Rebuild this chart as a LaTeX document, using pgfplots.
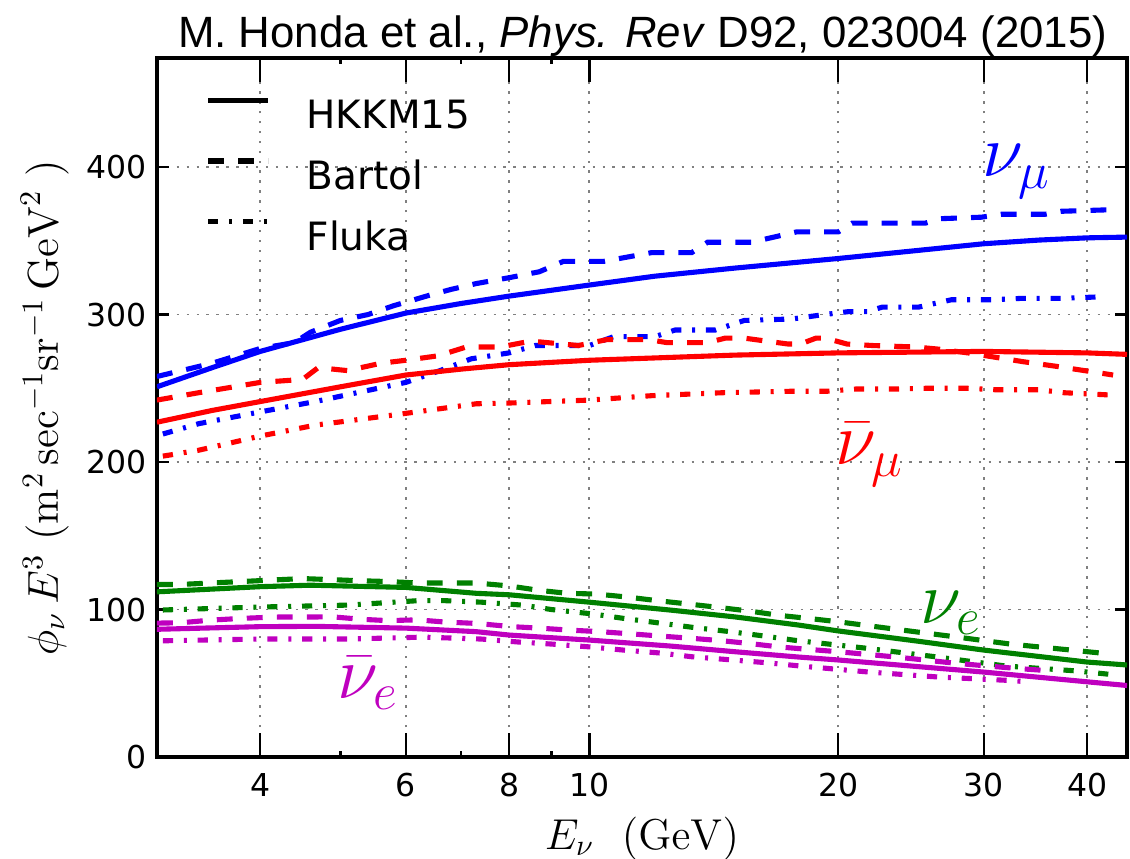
\documentclass[border=0pt]{standalone}
\usepackage[no-math]{fontspec}
\setmainfont{DejaVu Sans}
\newfontfamily\titlefont{Liberation Sans}
\usepackage{pgfplots}
\pgfplotsset{compat=1.18}

\definecolor{mgreen}{rgb}{0,0.5,0}
\definecolor{mmagenta}{rgb}{0.75,0,0.75}

\tikzset{
  hkkm/.style={line width=1.7pt, solid},
  bartol/.style={line width=1.7pt, dash pattern=on 5.3pt off 4.7pt},
  fluka/.style={line width=1.7pt, dash pattern=on 3.4pt off 3.6pt on 1pt off 3.6pt},
}

\begin{document}
\begin{tikzpicture}
\begin{axis}[
  name=ax,
  at={(0,0)}, anchor=south west,
  scale only axis, width=323.3pt, height=233pt,
  xmode=log, xmin=3, xmax=44.7, ymin=0, ymax=474,
  tick align=inside,
  tick style={black, line width=0.8pt},
  axis line style={line width=1.3pt},
  xtick={4,6,8,10,20,30,40},
  xticklabels={4,6,8,10,20,30,40},
  minor xtick={5,7,9},
  ytick={0,100,200,300,400},
  yticklabels={0,100,200,300,400},
  major tick length=4pt,
  minor tick length=2pt,
  grid=major,
  grid style={gray, line width=0.6pt, dash pattern=on 0.8pt off 2.5pt},
  xticklabel style={font=\fontsize{10.5}{12}\selectfont, yshift=-1.8pt},
  yticklabel style={font=\fontsize{10.5}{12}\selectfont},
  xlabel={$E_\nu\ \ (\mathrm{GeV})$},
  xlabel style={at={(axis description cs:0.5,0)}, anchor=base, yshift=-30.7pt,
    font=\fontsize{14.5}{17}\selectfont},
  ylabel={$\phi_\nu\,E^3\ (\mathrm{m}^2\,\mathrm{sec}^{-1}\mathrm{sr}^{-1}\,\mathrm{GeV}^2\ )$},
  ylabel style={at={(axis description cs:-0.102,0.5)}, anchor=base, rotate=0,
    font=\fontsize{14.5}{17}\selectfont},
  legend style={draw=none, fill=none, inner sep=0pt,
    at={(axis description cs:0,1)}, anchor=north west, xshift=16pt, yshift=-13pt,
    font=\fontsize{13}{15}\selectfont,
    nodes={inner sep=0pt, text height=9.5pt, text depth=0pt},
    row sep=10pt,
    /tikz/every odd column/.append style={column sep=12pt}},
  legend cell align=left,
  legend image code/.code={\draw[#1] (0pt,4.7pt) -- (20pt,4.7pt);},
]

% legend entries (model styles in black)
\addlegendimage{black, hkkm}
\addlegendentry{HKKM15}
\addlegendimage{black, bartol}
\addlegendentry{Bartol}
\addlegendimage{black, fluka}
\addlegendentry{Fluka}

% ---- nu_mu ----
\addplot[blue, fluka, forget plot] coordinates {
 (3.05,219) (3.37,226) (4,234) (4.66,241) (6,254) (6.6,262) (7.2,270) (8,274)
 (8.6,279) (10,279) (10.7,285) (12,285) (12.7,289.5) (14.2,289.5) (15.4,296)
 (17.6,297) (19,299.6) (20.6,302) (21.7,302) (22.6,305) (25,305) (27.4,310)
 (30.7,310) (33.4,311) (37.3,311) (41.5,312)};
\addplot[blue, bartol, forget plot] coordinates {
 (3,258) (3.5,267) (4,277) (4.4,281) (4.6,288) (5,296) (5.4,300) (5.8,306)
 (6.4,313) (6.8,317) (7.3,321) (8,325) (8.7,329) (9.3,336) (10.4,336)
 (11.9,342) (13.3,342) (13.9,349) (15.7,349) (17.8,356) (20,356) (20.8,362)
 (25.5,362) (26.6,365) (29.8,366) (31.5,368) (35.6,368) (37.2,370) (42.4,371)};
\addplot[blue, hkkm, forget plot] coordinates {
 (3,251) (3.5,264) (4,275) (5,290) (6,301) (7,307.5) (8,312.5) (10,320)
 (12,326) (15,331.5) (20,338) (25,343.5) (30,348) (35,350.5) (40,352) (44.7,352.5)};

% ---- anti nu_mu ----
\addplot[red, fluka, forget plot] coordinates {
 (3.05,204) (3.37,208) (4,217.6) (4.66,225) (6,233) (7.3,239.5) (8,240)
 (10,242) (11.9,245) (14.5,247) (17.6,248) (19.4,248) (21,249.5) (23.5,249.5)
 (25.5,250) (28.7,250) (31,249) (35,249) (37.5,247) (42.5,245.5)};
\addplot[red, bartol, forget plot] coordinates {
 (3,242) (3.37,247) (4,254) (4.5,256) (4.7,264) (5.1,262) (5.6,267) (6,269)
 (6.56,272) (7.1,278) (7.8,278) (8.5,282) (9.7,279) (10.5,283) (11.8,283)
 (12.4,281) (13.9,281) (14.6,284) (15.4,284) (17.4,280) (18,280) (18.8,284)
 (19.3,284) (20.5,280) (22,279) (24.8,278) (26.5,276.5) (28.7,274) (31,271)
 (33.5,268) (36.6,265) (39.7,262) (43,259)};
\addplot[red, hkkm, forget plot] coordinates {
 (3,227) (3.5,235) (4,241) (5,251) (6,259) (7,263) (8,266) (10,269)
 (15,272.5) (20,274) (30,275) (40,274) (44.7,273)};

% ---- nu_e ----
\addplot[mgreen, fluka, forget plot] coordinates {
 (3.05,99.7) (4,101.7) (5.1,103) (6.2,106) (6.7,106) (7.4,105) (8.3,103)
 (9,100) (10.1,97) (11,94) (12.1,91) (13.3,88) (14.8,85) (16.3,82) (17.8,79)
 (21.6,73.8) (26.2,68) (31.9,61.7) (38.8,58.4) (42.7,56)};
\addplot[mgreen, bartol, forget plot] coordinates {
 (3,117) (3.2,117) (3.8,119) (4.5,121) (5.3,119.5) (5.7,119) (6.2,118)
 (7.3,118) (8,116) (8.7,113) (9.4,111) (10.2,110.5) (11.1,108.5) (12.1,106)
 (13.2,103.7) (14.3,101.5) (15.6,99) (17,96) (18.4,94) (20,91.7) (23.5,86.6)
 (27.7,81.5) (32.4,76.5) (38.3,72.5) (42.4,70)};
\addplot[mgreen, hkkm, forget plot] coordinates {
 (3,112) (4,115.5) (4.6,116.5) (6,115) (7.3,111) (8,110) (10,105) (12.5,99.7)
 (15,95) (17.9,89.5) (20,85.5) (25,78.5) (30,72.5) (40,64.4) (44.7,62.4)};

% ---- anti nu_e ----
\addplot[mmagenta, fluka, forget plot] coordinates {
 (3.05,78.8) (4,80) (5.1,80) (6.3,81.3) (7.4,80) (8.2,78) (9,76.6) (10.1,74.5)
 (11,72.5) (12.2,70.5) (13.3,68) (14.9,65.8) (16.5,63.8) (18,61.7) (21.8,57.6)
 (26.5,54.2) (32,52) (34,51)};
\addplot[mmagenta, bartol, forget plot] coordinates {
 (3,90.8) (3.2,91) (3.5,92.9) (3.8,94) (4.15,94.9) (4.9,95) (5.3,93.4)
 (5.7,92.5) (6.2,93) (6.7,91.5) (7.3,90.6) (8.05,88.4) (8.7,87.4) (9.5,86)
 (10.3,85) (11.3,83.4) (12.2,82) (13.3,80.5) (14.5,78.8) (15.6,77) (17,74.6)
 (18.4,73) (20,71.4) (23.5,67.8) (27.7,63.6) (32.8,60.1) (36,58.5)};
\addplot[mmagenta, hkkm, forget plot] coordinates {
 (3,86.6) (4,88.4) (4.66,88.6) (6,87.4) (7.3,85) (8,82.7) (10,79.3) (12.5,75.3)
 (15,71.4) (17.9,67.8) (20,65.8) (30,57.6) (40,51) (44.7,48.5)};

% curve labels
\node[text=blue, font=\fontsize{25}{25}\selectfont] at (axis cs:32.9,397) {$\nu_\mu$};
\node[text=red, font=\fontsize{25}{25}\selectfont] at (axis cs:21.8,205) {$\bar\nu_\mu$};
\node[text=mgreen, font=\fontsize{25}{25}\selectfont] at (axis cs:27.4,97.6) {$\nu_e$};
\node[text=mmagenta, font=\fontsize{25}{25}\selectfont] at (axis cs:5.4,50.2) {$\bar\nu_e$};
\end{axis}

% longer energy ticks on the top and bottom edges
\begin{axis}[
  at={(0,0)}, anchor=south west,
  scale only axis, width=323.3pt, height=233pt,
  xmode=log, xmin=3, xmax=44.7, ymin=0, ymax=474,
  tick align=inside,
  tick style={black, line width=0.8pt},
  axis line style={line width=1.3pt},
  hide y axis,
  xtick={4,6,8,10,20,30,40},
  xticklabels={},
  minor xtick={5,7,9},
  major tick length=8pt,
  minor tick length=2pt,
]
\addplot[draw=none, forget plot] coordinates {(4,100) (40,100)};
\end{axis}

\node[anchor=base east, inner sep=0pt, font=\titlefont\fontsize{14.6}{17}\selectfont]
  at ([xshift=-6.4pt, yshift=3.3pt]ax.north east)
  {M. Honda et al., \textit{Phys. Rev} D92, 023004 (2015)};

\pgfresetboundingbox
\path[use as bounding box] (-52.3pt,-33.7pt) rectangle (324.3pt,252.3pt);
\end{tikzpicture}
\end{document}
